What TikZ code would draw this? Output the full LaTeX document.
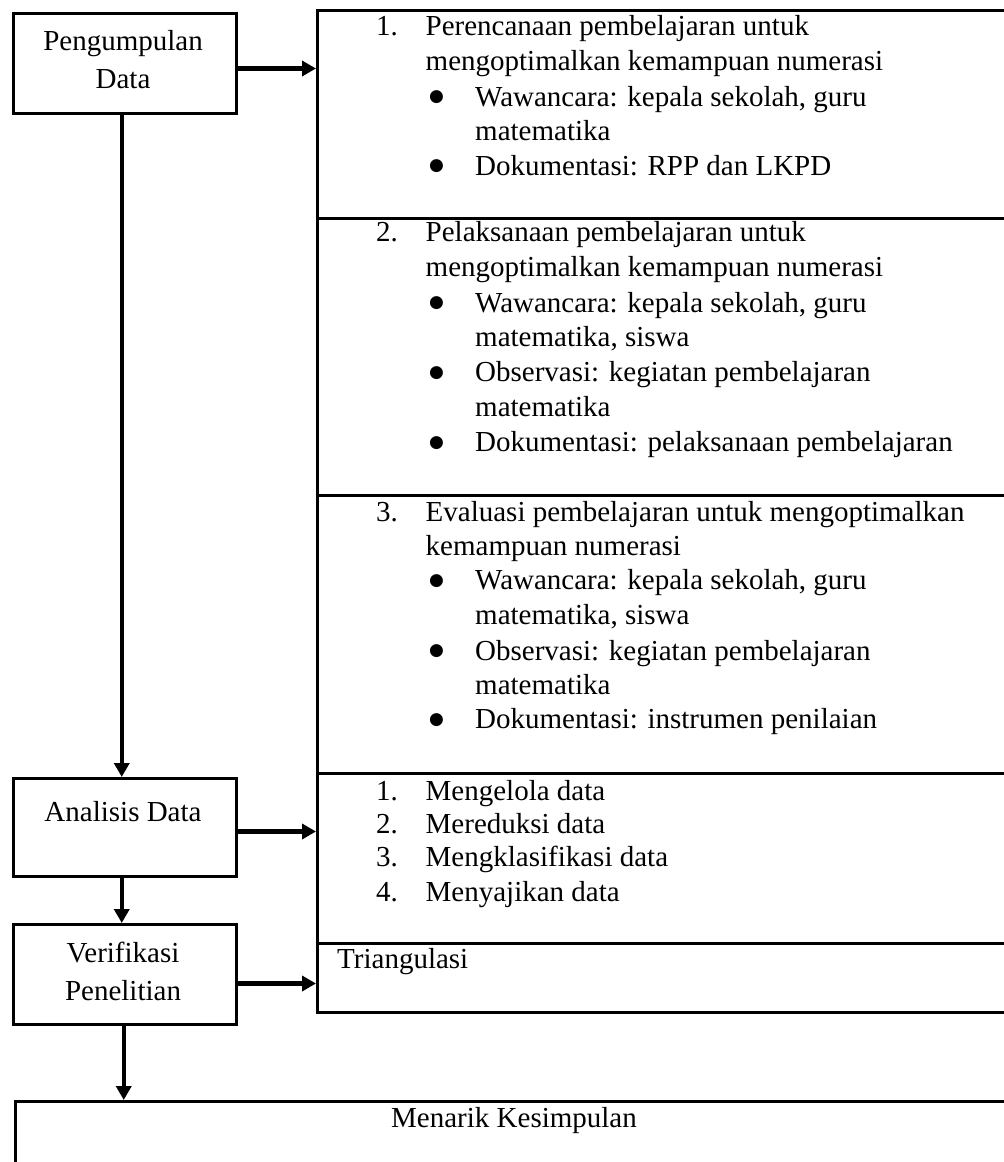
\documentclass[tikz,border=0pt]{standalone}
\usepackage{fontspec}
\setmainfont{Liberation Serif}
\newfontfamily\dejavu{DejaVu Sans}
\usetikzlibrary{arrows.meta}
\newcommand{\bigbul}{{\dejavu\fontsize{17}{17}\selectfont\raisebox{4.5pt}{●}}}
\begin{document}
\begin{tikzpicture}[x=1pt,y=-1pt,
  box/.style={draw, line width=3pt, inner sep=0pt, anchor=north west},
  conn/.style={line width=4.5pt, -{Triangle[length=14pt,width=15pt]}},
  txt/.style={anchor=base west, inner sep=0pt, font=\fontsize{29}{35}\selectfont},
  ctxt/.style={anchor=base, inner sep=0pt, font=\fontsize{29}{35}\selectfont},
]
\useasboundingbox (0,0) rectangle (1004,1162);
\clip (0,0) rectangle (1004,1162);

% left column boxes
\node[box, minimum width=223.5pt, minimum height=100pt] (peng) at (11.5,12) {};
\node[box, minimum width=223.5pt, minimum height=98pt] (anal) at (11.5,777) {};
\node[box, minimum width=223.5pt, minimum height=100pt] (veri) at (11.5,923) {};

% right column sections
\node[box, minimum width=720pt, minimum height=208pt] (sec1) at (316,9) {};
\node[box, minimum width=720pt, minimum height=277pt] (sec2) at (316,217) {};
\node[box, minimum width=720pt, minimum height=278pt] (sec3) at (316,494) {};
\node[box, minimum width=720pt, minimum height=170pt] (sec4) at (316,772) {};
\node[box, minimum width=720pt, minimum height=69pt] (sec5) at (316,942) {};

% bottom box
\node[box, minimum width=1020pt, minimum height=120pt] (menarik) at (14,1100) {};

% left box texts
\node[ctxt] (tpeng1) at (123,50) {Pengumpulan};
\node[ctxt] (tpeng2) at (123,88.5) {Data};
\node[ctxt] (tanal) at (123,821) {Analisis Data};
\node[ctxt] (tveri1) at (123,962) {Verifikasi};
\node[ctxt] (tveri2) at (123,1000) {Penelitian};
\node[ctxt] (tmenarik) at (514,1127) {Menarik Kesimpulan};

% section 1
\node[txt] (n1) at (376,35) {1.};
\node[txt] (s1a) at (425.5,35) {Perencanaan pembelajaran untuk};
\node[txt] (s1b) at (425.5,70.5) {mengoptimalkan kemampuan numerasi};
\node[txt] (b1a) at (429,106) {\bigbul};
\node[txt] (s1c) at (475,106) {Wawancara: kepala sekolah, guru};
\node[txt] (s1d) at (475,140) {matematika};
\node[txt] (b1b) at (429,175) {\bigbul};
\node[txt] (s1e) at (475,175) {Dokumentasi: RPP dan LKPD};

% section 2
\node[txt] (n2) at (376,241.5) {2.};
\node[txt] (s2a) at (425.5,241.5) {Pelaksanaan pembelajaran untuk};
\node[txt] (s2b) at (425.5,276.5) {mengoptimalkan kemampuan numerasi};
\node[txt] (b2a) at (429,312) {\bigbul};
\node[txt] (s2c) at (475,312) {Wawancara: kepala sekolah, guru};
\node[txt] (s2d) at (475,346.5) {matematika, siswa};
\node[txt] (b2b) at (429,381.5) {\bigbul};
\node[txt] (s2e) at (475,381.5) {Observasi: kegiatan pembelajaran};
\node[txt] (s2f) at (475,416.5) {matematika};
\node[txt] (b2c) at (429,451.5) {\bigbul};
\node[txt] (s2g) at (475,451.5) {Dokumentasi: pelaksanaan pembelajaran};

% section 3
\node[txt] (n3) at (376,521) {3.};
\node[txt] (s3a) at (425.5,521) {Evaluasi pembelajaran untuk mengoptimalkan};
\node[txt] (s3b) at (425.5,555) {kemampuan numerasi};
\node[txt] (b3a) at (429,589.5) {\bigbul};
\node[txt] (s3c) at (475,589.5) {Wawancara: kepala sekolah, guru};
\node[txt] (s3d) at (475,624.5) {matematika, siswa};
\node[txt] (b3b) at (429,660) {\bigbul};
\node[txt] (s3e) at (475,660) {Observasi: kegiatan pembelajaran};
\node[txt] (s3f) at (475,694.5) {matematika};
\node[txt] (b3c) at (429,728.5) {\bigbul};
\node[txt] (s3g) at (475,728.5) {Dokumentasi: instrumen penilaian};

% section 4
\node[txt] (m1) at (376,800) {1.};
\node[txt] (t1) at (425.5,800) {Mengelola data};
\node[txt] (m2) at (376,833) {2.};
\node[txt] (t2) at (425.5,833) {Mereduksi data};
\node[txt] (m3) at (376,866.5) {3.};
\node[txt] (t3) at (425.5,866.5) {Mengklasifikasi data};
\node[txt] (m4) at (376,901) {4.};
\node[txt] (t4) at (425.5,901) {Menyajikan data};

% section 5
\node[txt] (tri) at (337,968) {Triangulasi};

% connectors
\draw[conn] ([yshift=-5pt]peng.east) -- ([yshift=-5pt]peng.east -| sec1.west);
\draw[conn] ([xshift=-3pt]peng.south) -- ([xshift=-3pt]anal.north);
\draw[conn] ([yshift=-4pt]anal.east) -- ([yshift=-4pt]anal.east -| sec4.west);
\draw[conn] ([xshift=-3pt]anal.south) -- ([xshift=-3pt]veri.north);
\draw[conn] ([yshift=-9pt]veri.east) -- ([yshift=-9pt]veri.east -| sec5.west);
\draw[conn] ([xshift=-1pt]veri.south) -- ([xshift=-1pt]veri.south |- menarik.north);
\end{tikzpicture}
\end{document}
